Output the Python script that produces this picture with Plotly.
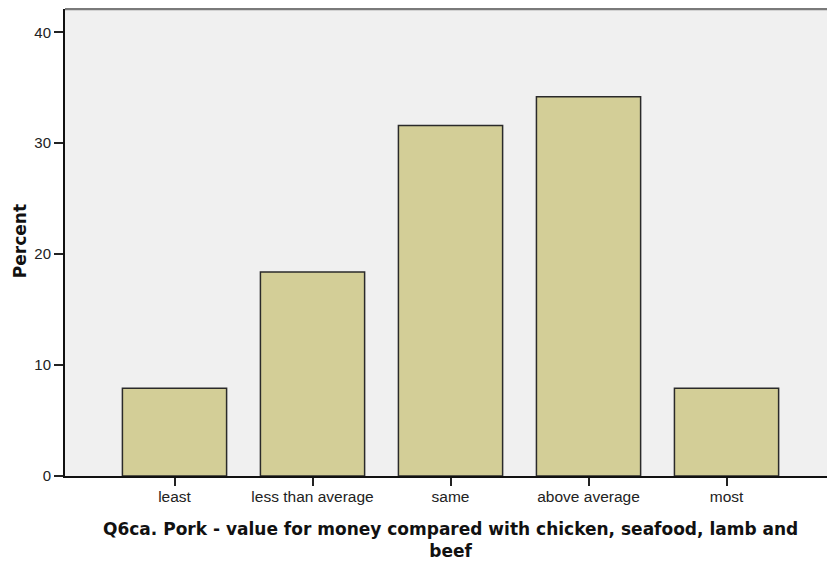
import plotly.graph_objects as go

categories = ["least", "less than average", "same", "above average", "most"]
percent = [7.9, 18.4, 31.6, 34.2, 7.9]
y_ticks = [0, 10, 20, 30, 40]
x_title = "Q6ca. Pork - value for money compared with chicken, seafood, lamb and<br>beef"
y_title = "Percent"

fig = go.Figure()
fig.add_trace(go.Bar(
    x=list(range(len(categories))),
    y=percent,
    marker=dict(color="#D3CE97", line=dict(color="#2a2a2a", width=1.5)),
    width=0.755,
    hoverinfo="skip",
))

fig.update_layout(
    width=827, height=553,
    margin=dict(l=57, r=0, t=1, b=85, autoexpand=False),
    paper_bgcolor="white",
    plot_bgcolor="#F0F0F0",
    showlegend=False,
    font=dict(family="Liberation Sans, Arial, sans-serif", size=15, color="#222222"),
    xaxis=dict(
        range=[-0.7935, 4.786],
        tickmode="array",
        tickvals=list(range(len(categories))),
        ticktext=categories,
        ticks="outside", ticklen=8, tickwidth=1.5, tickcolor="#222",
        ticklabelstandoff=-3,
        showline=True, linecolor="#111", linewidth=2,
        showgrid=False, zeroline=False,
        tickfont=dict(size=15.5),
        automargin=False,
    ),
    yaxis=dict(
        range=[0, 42.1],
        tickmode="array",
        tickvals=y_ticks,
        ticks="outside", ticklen=9, tickwidth=1.5, tickcolor="#222",
        showline=True, linecolor="#111", linewidth=2,
        showgrid=False, zeroline=False,
        tickfont=dict(size=15),
        automargin=False,
    ),
    shapes=[dict(type="line", xref="paper", yref="paper", x0=0, x1=1, y0=1, y1=1,
                 line=dict(color="#7a7a7a", width=2.5))],
    annotations=[
        dict(text="<b>" + x_title + "</b>", xref="paper", yref="paper", x=0.5, y=-0.137,
             xanchor="center", yanchor="middle", showarrow=False,
             font=dict(family="DejaVu Sans", size=17, color="#111")),
        dict(text="<b>" + y_title + "</b>", xref="paper", yref="paper", x=-0.0584, y=0.503,
             xanchor="center", yanchor="middle", showarrow=False, textangle=-90,
             font=dict(family="DejaVu Sans", size=17, color="#111")),
    ],
)

fig.write_html("out.html")
